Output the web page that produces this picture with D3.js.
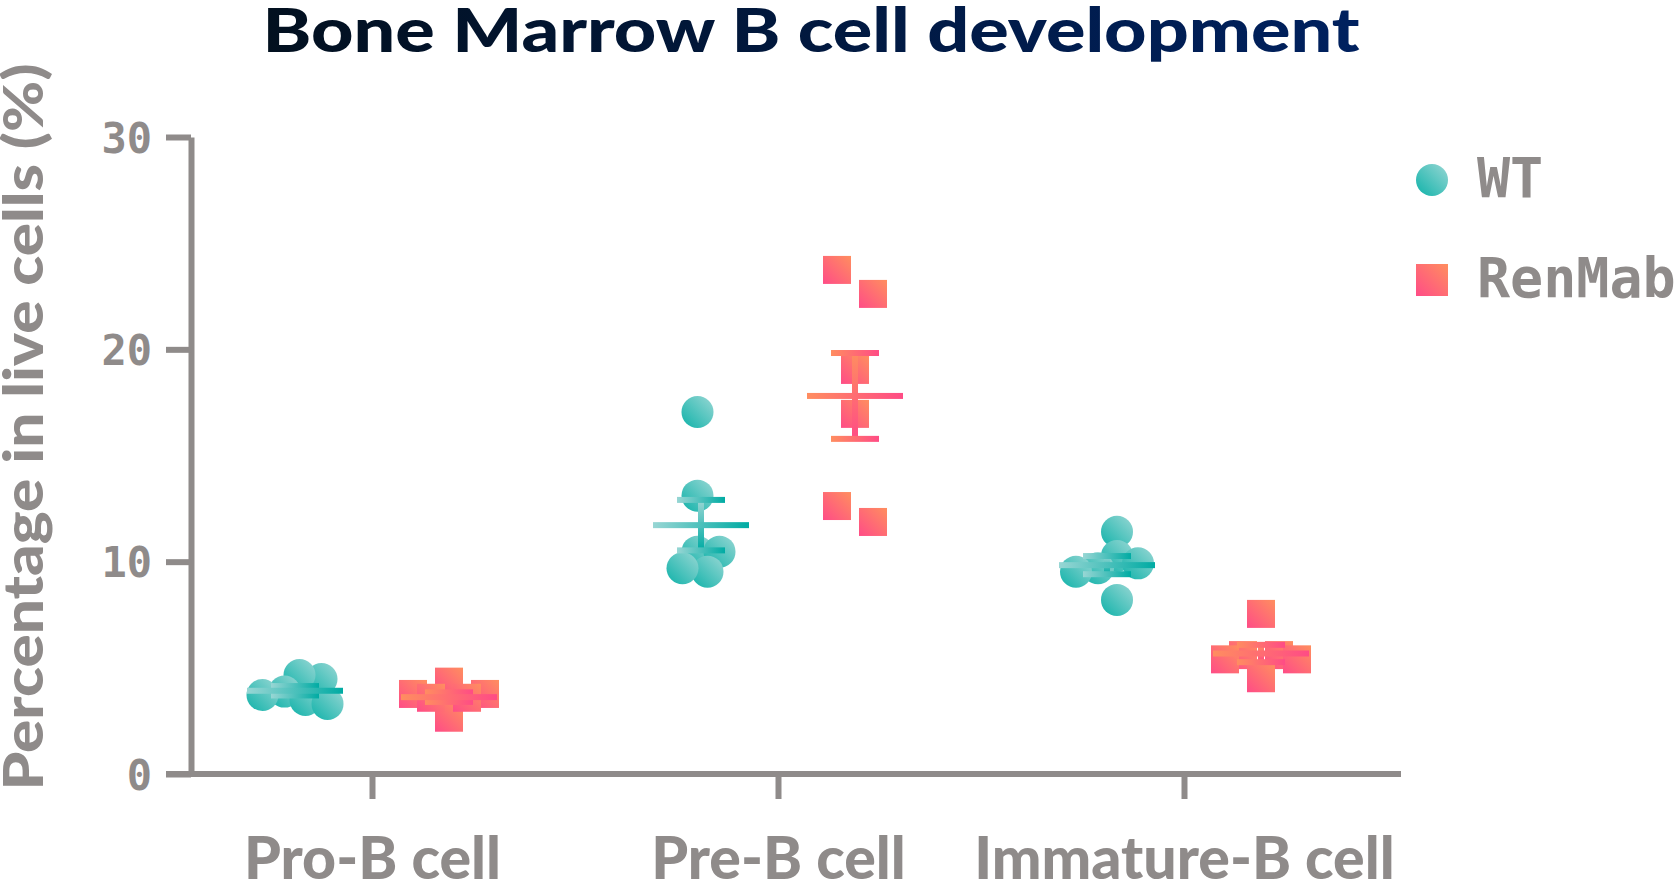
<!DOCTYPE html>
<html>
<head>
<meta charset="utf-8">
<script src="https://cdn.jsdelivr.net/npm/d3@7"></script>
<style>
  html, body { margin: 0; padding: 0; background: #fff; }
  svg { display: block; }
</style>
</head>
<body>
<svg id="chart" width="1680" height="890"></svg>
<script>
// data
const categories = ["Pro-B cell", "Pre-B cell", "Immature-B cell"];
const seriesNames = ["WT", "RenMab"];
const wtValues = [
  [4.47, 4.66, 3.88, 3.49, 3.72, 3.30],
  [17.05, 13.11, 10.47, 10.47, 9.53, 9.69],
  [11.41, 10.27, 9.92, 9.69, 9.53, 8.20]
];
const renMabValues = [
  [3.77, 4.35, 3.77, 2.65, 3.59, 3.59],
  [23.74, 22.61, 19.03, 16.96, 11.87, 12.62],
  [7.54, 5.6, 5.4, 5.6, 5.4, 4.51]
];
const yTickValues = [0, 10, 20, 30];

const grey = "#8f8b8a";
const svg = d3.select("#chart");

// gradients
const defs = svg.append("defs");
function grad(id, x1, y1, x2, y2, c1, c2) {
  const g = defs.append("linearGradient").attr("id", id)
    .attr("x1", x1).attr("y1", y1).attr("x2", x2).attr("y2", y2);
  g.append("stop").attr("offset", "0%").attr("stop-color", c1);
  g.append("stop").attr("offset", "100%").attr("stop-color", c2);
}
grad("wtFill", 0, 1, 1, 0, "#0fb2a9", "#98d7d4");
grad("rmFill", 0, 1, 1, 0, "#ff4c87", "#ff8e5f");
grad("wtH", 0, 0, 1, 0, "#98d6d4", "#00aba3");
grad("wtV", 0, 0, 0, 1, "#9ad6d4", "#00aba3");
grad("rmH", 0, 0, 1, 0, "#ff8d60", "#ff4c85");
grad("rmV", 0, 0, 0, 1, "#ff8d60", "#ff4c85");
defs.append("linearGradient").attr("id", "titleGrad")
  .attr("gradientUnits", "userSpaceOnUse")
  .attr("x1", 263).attr("x2", 1360).attr("y1", 0).attr("y2", 0)
  .call(g => {
    g.append("stop").attr("offset", "0%").attr("stop-color", "#02101f");
    g.append("stop").attr("offset", "100%").attr("stop-color", "#00215f");
  });

// scales
const y = d3.scaleLinear().domain([0, 30]).range([774, 137]);
const x = d3.scalePoint().domain(categories).range([372, 1184]);
const xGroup = d3.scaleBand().domain(seriesNames).range([-154, 154]);

const styles = {
  WT: { fill: "url(#wtFill)", h: "url(#wtH)", v: "url(#wtV)", shape: "circle", size: 32 },
  RenMab: { fill: "url(#rmFill)", h: "url(#rmH)", v: "url(#rmV)", shape: "square", size: 28 }
};

// circles: simple beeswarm, high to low, nearest free offset
function swarm(values, minDist) {
  const pts = values.map(v => ({ v, py: y(v), dx: 0 }));
  const placed = [];
  pts.slice().sort((a, b) => b.v - a.v).forEach(p => {
    for (let s = 0; s < 300; s++) {
      const cands = s === 0 ? [0] : [s, -s];
      const hit = cands.find(c => placed.every(q => Math.hypot(c - q.dx, p.py - q.py) >= minDist));
      if (hit !== undefined) { p.dx = hit; break; }
    }
    placed.push(p);
  });
  const ext = d3.extent(pts, d => d.dx);
  const shift = (ext[0] + ext[1]) / 2;
  pts.forEach(p => p.dx -= shift);
  return pts;
}

// squares: points closer than one marker go in a row, outlier in the middle
function rows(values, size, spacing) {
  const pts = values.map(v => ({ v, py: y(v), dx: 0 }));
  const groups = [];
  let cur = null;
  pts.slice().sort((a, b) => b.v - a.v).forEach(p => {
    if (cur && Math.abs(p.py - cur[0].py) < size) cur.push(p);
    else { cur = [p]; groups.push(cur); }
  });
  groups.forEach(row => {
    const med = d3.median(row, d => d.v);
    const slots = row.length % 2 ? [0] : [];
    for (let k = 1; slots.length < row.length; k++) {
      slots.push(-k);
      if (slots.length < row.length) slots.push(k);
    }
    row.slice()
      .sort((a, b) => Math.abs(b.v - med) - Math.abs(a.v - med))
      .forEach((p, i) => p.dx = slots[i] * spacing);
  });
  return pts;
}

// axes
const yAxis = svg.append("g")
  .attr("transform", "translate(191,0)")
  .call(d3.axisLeft(y).tickValues(yTickValues).tickSize(25).tickSizeOuter(0).tickPadding(14));
yAxis.select(".domain").attr("stroke", grey).attr("stroke-width", 6);
yAxis.selectAll(".tick line").attr("stroke", grey).attr("stroke-width", 6);
yAxis.selectAll(".tick text")
  .attr("fill", grey)
  .attr("font-family", "'DejaVu Sans Mono', monospace")
  .attr("font-weight", "bold")
  .attr("font-size", 42)
  .attr("dy", "0.36em");

svg.append("line")
  .attr("x1", 166).attr("x2", 1401)
  .attr("y1", y(0)).attr("y2", y(0))
  .attr("stroke", grey).attr("stroke-width", 6);

const xAxis = svg.append("g")
  .attr("transform", `translate(0,${y(0)})`)
  .call(d3.axisBottom(x).tickSize(25).tickSizeOuter(0));
xAxis.select(".domain").remove();
xAxis.selectAll(".tick line").attr("stroke", grey).attr("stroke-width", 6);
xAxis.selectAll(".tick text")
  .attr("fill", grey)
  .attr("font-family", "Lato, sans-serif")
  .attr("font-weight", 900)
  .attr("font-size", 59)
  .attr("dy", 0)
  .attr("y", 105);

// points + mean/SEM
const groups = [];
categories.forEach((c, i) => {
  groups.push({ cat: c, series: "WT", values: wtValues[i] });
  groups.push({ cat: c, series: "RenMab", values: renMabValues[i] });
});

groups.forEach(gr => {
  const st = styles[gr.series];
  const cx = x(gr.cat) + xGroup(gr.series) + xGroup.bandwidth() / 2;
  const g = svg.append("g");
  if (st.shape === "circle") {
    g.selectAll("circle").data(swarm(gr.values, 22)).enter().append("circle")
      .attr("cx", d => cx + d.dx).attr("cy", d => d.py)
      .attr("r", st.size / 2).attr("fill", st.fill);
  } else {
    g.selectAll("rect").data(rows(gr.values, st.size, 18)).enter().append("rect")
      .attr("x", d => cx + d.dx - st.size / 2).attr("y", d => d.py - st.size / 2)
      .attr("width", st.size).attr("height", st.size).attr("fill", st.fill);
  }
  const mean = d3.mean(gr.values);
  const sem = d3.deviation(gr.values) / Math.sqrt(gr.values.length);
  const t = 6;
  g.append("rect")
    .attr("x", cx - t / 2).attr("y", y(mean + sem))
    .attr("width", t).attr("height", y(mean - sem) - y(mean + sem))
    .attr("fill", st.v);
  [mean + sem, mean - sem].forEach(v => {
    g.append("rect")
      .attr("x", cx - 24).attr("y", y(v) - t / 2)
      .attr("width", 48).attr("height", t).attr("fill", st.h);
  });
  g.append("rect")
    .attr("x", cx - 48).attr("y", y(mean) - t / 2)
    .attr("width", 96).attr("height", t).attr("fill", st.h);
});

// title
svg.append("text")
  .attr("x", 811).attr("y", 52)
  .attr("text-anchor", "middle")
  .attr("font-family", "Lato, sans-serif")
  .attr("font-weight", 900)
  .attr("font-size", 61)
  .attr("textLength", 1097)
  .attr("lengthAdjust", "spacingAndGlyphs")
  .attr("fill", "url(#titleGrad)")
  .text("Bone Marrow B cell development");

// y axis title
svg.append("text")
  .attr("transform", "translate(43,427) rotate(-90)")
  .attr("text-anchor", "middle")
  .attr("font-family", "Lato, sans-serif")
  .attr("font-weight", 900)
  .attr("font-size", 56)
  .attr("textLength", 727)
  .attr("lengthAdjust", "spacingAndGlyphs")
  .attr("fill", grey)
  .text("Percentage in live cells (%)");

// legend
const legend = svg.append("g");
seriesNames.forEach((name, i) => {
  const st = styles[name];
  const ly = 180 + i * 100;
  if (st.shape === "circle") {
    legend.append("circle").attr("cx", 1432).attr("cy", ly).attr("r", 16).attr("fill", st.fill);
  } else {
    legend.append("rect").attr("x", 1416).attr("y", ly - 16).attr("width", 32).attr("height", 32).attr("fill", st.fill);
  }
  legend.append("text")
    .attr("x", 1477).attr("y", ly + 17)
    .attr("font-family", "'DejaVu Sans Mono', monospace")
    .attr("font-weight", "bold")
    .attr("font-size", 55)
    .attr("fill", grey)
    .text(name);
});
</script>
</body>
</html>
